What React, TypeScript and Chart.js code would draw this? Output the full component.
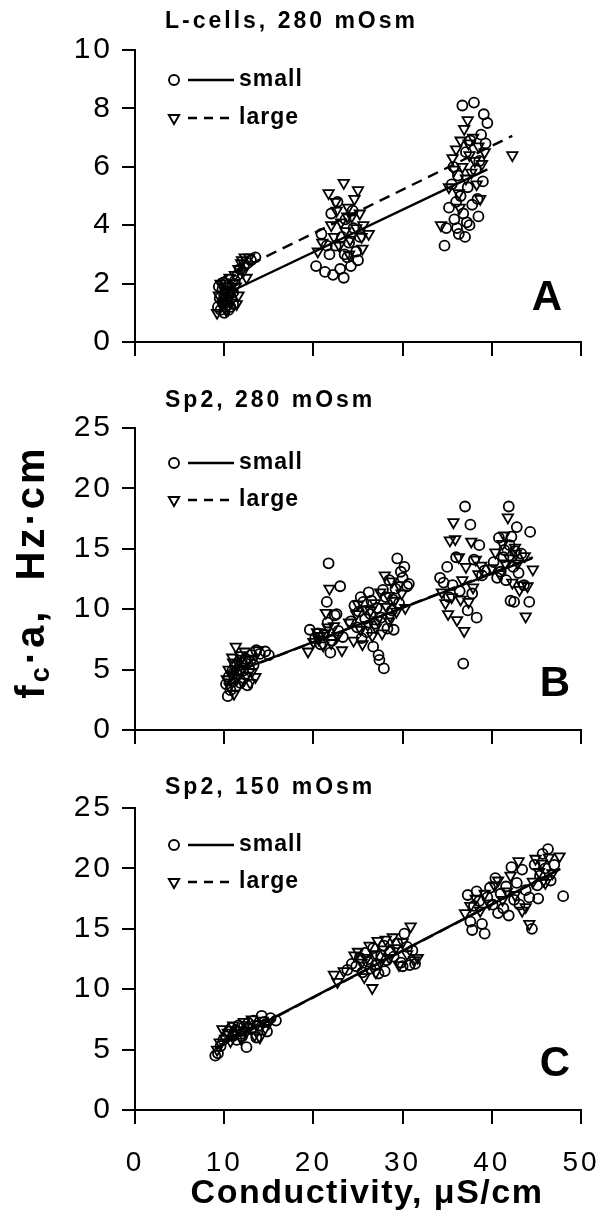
import { useEffect, useRef } from "react";
import { Chart, registerables } from "chart.js";

Chart.register(...registerables);

type Pt = [number, number];

const FONT = '"Liberation Sans", Arial, sans-serif';

const xTicks = [0, 10, 20, 30, 40, 50];
const aYTicks = [0, 2, 4, 6, 8, 10];
const bcYTicks = [0, 5, 10, 15, 20, 25];

const panelTitles = ["L-cells, 280 mOsm", "Sp2, 280 mOsm", "Sp2, 150 mOsm"];
const panelLetters = ["A", "B", "C"];
const legendLabels = ["small", "large"];
const xTitle = "Conductivity, \u03BCS/cm";

// ---------- Panel A: L-cells, 280 mOsm ----------
const aSmall: Pt[] = [
  [9.3, 1.2], [9.5, 1.5], [9.6, 1.1], [9.8, 1.8], [9.9, 1.3], [10.0, 1.6], [10.1, 1.2], [10.2, 2.0],
  [10.3, 1.4], [10.4, 1.7], [10.5, 1.1], [10.6, 1.9], [10.8, 1.5], [11.0, 1.3], [11.2, 2.1], [11.5, 2.3],
  [11.8, 2.5], [12.2, 2.6], [12.6, 2.7], [13.0, 2.8], [13.5, 2.9], [9.4, 1.9], [10.7, 1.2], [11.0, 1.7], [10.0, 1.0],
  [20.3, 2.6], [20.9, 3.7], [21.3, 2.4], [21.8, 3.0], [22.2, 2.3], [22.5, 3.3], [22.7, 4.8], [23.0, 2.5],
  [23.2, 3.6], [23.4, 2.2], [23.6, 4.2], [23.8, 2.9], [24.0, 3.4], [24.2, 2.6], [24.5, 3.9], [24.8, 3.1],
  [25.0, 2.8], [22.0, 4.4], [23.5, 3.0], [24.4, 4.5], [21.5, 3.3], [25.2, 3.6],
  [34.7, 3.3], [34.9, 3.9], [35.2, 4.6], [35.5, 5.4], [35.7, 6.0], [35.8, 4.2], [36.0, 4.8], [36.2, 5.7],
  [36.3, 3.7], [36.5, 5.0], [36.7, 8.1], [36.8, 4.4], [37.0, 3.6], [37.1, 6.5], [37.3, 5.3], [37.5, 4.0],
  [37.6, 6.9], [37.8, 4.7], [38.0, 8.2], [38.2, 5.9], [38.4, 4.9], [38.6, 6.2], [38.8, 7.1], [39.0, 5.5],
  [39.1, 7.8], [39.3, 6.8], [39.5, 7.5], [38.5, 4.3], [37.2, 4.1], [36.1, 3.9],
];
const aLarge: Pt[] = [
  [9.2, 1.0], [9.4, 1.6], [9.6, 2.0], [9.7, 1.3], [9.9, 1.9], [10.0, 1.4], [10.2, 1.1], [10.3, 1.8],
  [10.5, 1.5], [10.6, 2.2], [10.8, 1.7], [11.0, 2.0], [11.2, 2.3], [11.4, 1.3], [11.6, 2.5], [11.9, 2.7],
  [12.1, 2.4], [12.3, 2.9], [12.5, 2.2], [12.8, 2.9], [10.4, 1.2], [11.6, 1.6], [11.3, 1.9], [12.0, 2.8],
  [20.5, 3.1], [21.0, 3.4], [21.7, 5.1], [22.0, 4.0], [22.3, 3.6], [22.6, 4.5], [22.9, 3.3], [23.1, 4.1],
  [23.4, 5.45], [23.6, 3.8], [23.9, 4.6], [24.1, 3.5], [24.3, 4.3], [24.6, 4.9], [24.8, 3.9], [25.0, 5.2],
  [25.2, 4.4], [25.4, 3.6], [25.6, 4.0], [26.2, 3.7], [25.5, 3.2], [24.0, 3.0], [22.5, 4.8], [23.8, 4.3],
  [34.3, 4.0], [35.2, 5.3], [35.6, 6.3], [35.8, 5.9], [36.0, 6.6], [36.3, 5.1], [36.5, 6.9], [36.7, 6.0],
  [36.9, 7.3], [37.1, 5.6], [37.3, 7.6], [37.5, 6.4], [37.7, 5.8], [37.9, 7.0], [38.1, 6.2], [38.3, 5.4],
  [38.5, 6.7], [38.7, 4.9], [38.9, 6.1], [39.2, 6.5], [37.4, 6.8], [36.4, 4.6], [42.3, 6.4],
];
const aSmallFit: Pt[] = [[9.5, 1.55], [39.5, 5.91]];
const aLargeFit: Pt[] = [[9.3, 2.12], [42.3, 7.06]];

// ---------- Panel B: Sp2, 280 mOsm ----------
const bSmall: Pt[] = [
  [10.2, 3.8], [10.4, 2.8], [10.5, 4.4], [10.7, 3.3], [10.9, 4.9], [11.0, 4.0], [11.2, 5.3], [11.3, 3.6],
  [11.5, 4.6], [11.7, 5.0], [11.8, 3.9], [12.0, 5.6], [12.2, 4.3], [12.4, 5.9], [12.6, 3.7], [12.8, 5.1],
  [13.0, 6.2], [13.3, 5.4], [13.6, 6.6], [14.0, 6.3], [14.6, 6.5], [15.0, 6.2], [11.0, 4.7], [12.1, 4.9],
  [19.6, 8.3], [20.2, 7.6], [20.8, 7.1], [21.2, 7.9], [21.5, 10.6], [21.6, 8.9], [21.7, 13.8], [21.9, 6.4],
  [22.1, 7.4], [22.4, 9.5], [22.8, 8.2], [23.0, 11.9], [23.3, 7.7], [20.5, 8.0], [22.6, 9.6],
  [24.2, 9.0], [24.6, 10.3], [24.9, 8.5], [25.1, 9.8], [25.4, 7.6], [25.6, 10.6], [25.8, 9.2], [26.0, 8.1],
  [26.2, 11.4], [26.4, 9.6], [26.7, 6.9], [26.9, 8.8], [27.1, 10.1], [27.3, 6.2], [27.4, 5.8], [27.6, 9.3],
  [27.9, 5.1], [28.1, 11.0], [28.3, 8.4], [28.5, 12.4], [28.8, 9.9], [29.0, 8.3], [29.2, 11.7], [29.4, 14.2],
  [29.6, 10.5], [29.8, 13.1], [30.0, 12.6], [30.2, 13.5], [30.5, 11.9], [30.7, 12.1], [28.9, 10.8], [27.8, 11.6],
  [26.5, 10.7], [25.3, 11.0],
  [34.2, 12.6], [34.6, 12.2], [35.0, 13.5], [35.2, 11.0], [35.6, 12.0], [36.0, 14.3], [36.4, 11.5], [36.8, 5.5],
  [37.0, 18.5], [37.3, 9.9], [37.6, 17.0], [37.8, 11.3], [38.0, 14.1], [38.3, 9.3], [38.6, 15.3], [38.9, 12.8],
  [39.2, 13.2],
  [40.2, 13.9], [40.6, 12.6], [40.8, 15.9], [41.0, 13.1], [41.3, 14.3], [41.6, 12.4], [41.9, 18.5], [42.0, 15.3],
  [42.2, 16.0], [42.4, 13.5], [42.6, 14.8], [42.8, 16.8], [43.0, 13.0], [42.1, 10.7], [42.5, 10.6], [43.3, 14.6],
  [43.6, 12.0], [44.3, 16.4], [44.2, 10.6], [41.4, 14.9],
];
const bLarge: Pt[] = [
  [10.3, 4.2], [10.5, 5.0], [10.6, 3.6], [10.8, 4.6], [11.0, 5.6], [11.1, 3.0], [11.3, 6.9], [11.4, 4.3],
  [11.6, 5.5], [11.8, 6.2], [12.0, 4.0], [12.1, 5.1], [12.3, 6.5], [12.5, 4.5], [12.7, 5.8], [12.9, 3.9],
  [13.1, 4.8], [13.3, 5.9], [13.5, 4.4], [13.8, 6.6], [11.9, 5.9], [10.9, 6.0],
  [19.4, 6.5], [20.0, 7.3], [20.4, 8.1], [20.8, 7.8], [21.1, 7.0], [21.4, 9.7], [21.6, 8.5], [21.8, 11.7],
  [22.0, 7.2], [22.3, 8.6], [22.7, 7.8], [23.2, 6.6], [20.6, 7.5], [21.3, 8.0],
  [24.0, 8.9], [24.5, 7.4], [24.8, 9.6], [25.0, 10.4], [25.3, 8.3], [25.5, 7.1], [25.8, 10.0], [26.1, 8.7],
  [26.4, 9.9], [26.6, 7.8], [26.9, 10.5], [27.2, 9.1], [27.5, 11.4], [27.7, 8.0], [28.0, 12.8], [28.2, 10.2],
  [28.4, 11.1], [28.6, 9.4], [28.8, 12.3], [29.1, 10.7], [29.3, 9.8], [29.6, 12.0], [29.9, 11.3], [30.3, 10.1],
  [27.0, 8.5], [28.5, 9.0],
  [34.4, 11.4], [34.8, 10.5], [35.1, 9.6], [35.3, 15.7], [35.5, 11.0], [35.7, 17.2], [35.9, 15.8], [36.1, 9.1],
  [36.3, 14.3], [36.5, 10.8], [36.7, 12.4], [36.9, 8.2], [37.1, 13.5], [37.4, 10.6], [37.7, 15.6], [37.9, 11.8],
  [38.2, 14.1], [38.5, 12.9], [38.8, 13.6],
  [40.0, 13.4], [40.4, 14.7], [40.9, 12.9], [41.2, 15.4], [41.5, 13.8], [41.8, 17.6], [42.0, 14.2], [42.3, 12.2],
  [42.6, 15.1], [42.9, 13.8], [43.1, 11.6], [43.4, 12.0], [43.7, 14.4], [43.8, 9.4], [44.0, 11.9], [44.6, 13.3],
  [42.7, 14.6], [41.4, 16.1],
];
const bSmallFit: Pt[] = [[10.5, 4.6], [44.5, 14.2]];
const bLargeFit: Pt[] = [[10.3, 4.5], [44.6, 14.3]];

// ---------- Panel C: Sp2, 150 mOsm ----------
const cSmall: Pt[] = [
  [9.0, 4.5], [9.3, 4.7], [9.6, 5.3], [9.9, 5.8], [10.2, 6.1], [10.5, 6.5], [10.8, 6.8], [11.0, 6.2],
  [11.3, 6.6], [11.6, 7.0], [11.9, 6.3], [12.2, 6.9], [12.5, 5.2], [12.7, 7.2], [13.0, 6.7], [13.3, 7.4],
  [13.6, 6.0], [13.9, 7.0], [14.2, 7.8], [14.5, 7.3], [14.8, 6.5], [15.2, 7.6], [15.8, 7.4], [12.0, 6.1], [11.4, 5.8],
  [23.8, 11.6], [24.3, 12.1], [24.8, 11.9], [25.2, 12.6], [25.5, 11.4], [25.8, 13.0], [26.1, 12.3], [26.4, 11.7],
  [26.7, 13.4], [27.0, 12.0], [27.3, 11.3], [27.6, 12.8], [27.9, 13.6], [28.2, 12.4], [28.6, 13.1], [29.0, 12.7],
  [29.4, 13.8], [29.8, 12.2], [30.2, 14.6], [30.5, 13.5], [30.8, 12.0], [31.1, 13.2], [31.4, 12.1], [30.0, 11.9], [28.0, 11.5],
  [37.3, 17.8], [37.6, 15.6], [37.8, 14.9], [38.0, 16.9], [38.3, 18.1], [38.6, 17.3], [38.9, 15.4], [39.2, 14.6],
  [39.5, 17.6], [39.8, 18.4], [40.1, 17.0], [40.4, 19.2], [40.7, 16.3], [41.0, 17.9], [41.3, 16.7], [41.6, 18.5],
  [41.9, 16.1], [42.2, 20.1], [42.5, 17.4], [42.8, 18.8], [43.1, 17.0], [43.4, 19.9], [43.8, 18.2], [44.2, 17.6],
  [44.5, 15.0], [44.8, 20.3], [45.1, 18.6], [45.4, 19.4], [45.7, 21.2], [46.0, 20.0], [46.3, 21.6], [46.6, 19.0],
  [47.0, 20.3], [48.0, 17.7], [45.2, 17.5],
];
const cLarge: Pt[] = [
  [9.2, 5.0], [9.5, 5.6], [9.8, 6.7], [10.1, 5.9], [10.4, 6.4], [10.7, 5.7], [11.0, 7.0], [11.3, 6.3],
  [11.6, 6.6], [11.9, 5.9], [12.2, 7.3], [12.5, 6.5], [12.8, 6.9], [13.1, 7.5], [13.4, 6.2], [13.7, 7.1],
  [14.0, 6.0], [14.3, 7.4], [14.6, 6.8], [15.0, 7.2],
  [22.3, 11.2], [22.7, 10.6], [23.4, 11.5], [24.6, 12.8], [25.0, 13.1], [25.4, 12.2], [25.7, 11.0], [26.0, 12.6],
  [26.3, 13.6], [26.6, 10.1], [26.9, 12.9], [27.2, 14.0], [27.5, 12.2], [27.8, 13.3], [28.1, 14.1], [28.5, 12.6],
  [28.9, 14.3], [29.2, 13.4], [29.6, 12.0], [30.0, 13.9], [30.5, 12.9], [30.9, 15.2], [31.3, 12.4], [31.7, 12.6], [27.0, 11.4],
  [37.0, 16.3], [37.6, 16.9], [38.2, 17.5], [38.7, 16.5], [39.2, 17.9], [39.7, 17.1], [40.3, 18.6], [40.7, 19.0],
  [41.2, 17.4], [41.7, 18.1], [42.1, 19.4], [42.6, 17.8], [43.0, 20.6], [43.4, 16.5], [43.8, 16.8], [44.2, 15.4],
  [44.6, 18.9], [44.9, 20.8], [45.3, 19.7], [45.6, 20.4], [46.0, 18.8], [46.4, 20.9], [46.8, 19.6], [47.6, 21.0], [45.8, 19.0],
];
const cSmallFit: Pt[] = [[9.2, 5.2], [47.5, 19.9]];
const cLargeFit: Pt[] = [[9.0, 5.1], [47.8, 20.0]];

// ---------- layout (page pixels) ----------
type PanelLayout = {
  top: number; height: number; areaTop: number; areaBottom: number;
  titleY: number; legendY: [number, number]; letterX: number; letterY: number;
};
const layouts: PanelLayout[] = [
  { top: 0, height: 380, areaTop: 50, areaBottom: 342, titleY: 22, legendY: [80, 118], letterX: 547, letterY: 298 },
  { top: 380, height: 380, areaTop: 428, areaBottom: 730, titleY: 401, legendY: [463, 500], letterX: 555, letterY: 684 },
  { top: 760, height: 452, areaTop: 808, areaBottom: 1110, titleY: 788, legendY: [845, 882], letterX: 555, letterY: 1064 },
];
const AXIS_LEFT = 135;
const AXIS_RIGHT = 581;

function drawDownTriangle(ctx: CanvasRenderingContext2D, x: number, y: number, r: number) {
  ctx.beginPath();
  ctx.moveTo(x - r * 0.866, y - r * 0.5);
  ctx.lineTo(x + r * 0.866, y - r * 0.5);
  ctx.lineTo(x, y + r);
  ctx.closePath();
  ctx.stroke();
}

function makeDeco(idx: number) {
  const L = layouts[idx];
  return {
    id: "deco" + idx,
    beforeDraw(chart: any) {
      chart.ctx.letterSpacing = "3px";
    },
    afterDraw(chart: any) {
      const ctx: CanvasRenderingContext2D = chart.ctx;
      const off = L.top;
      ctx.save();
      ctx.fillStyle = "#000";
      ctx.strokeStyle = "#000";
      // panel title
      ctx.font = `bold 23px ${FONT}`;
      (ctx as any).letterSpacing = "3px";
      ctx.textAlign = "left";
      ctx.textBaseline = "middle";
      ctx.fillText(panelTitles[idx], 165, L.titleY - off);
      // legend
      (ctx as any).letterSpacing = "1px";
      ctx.font = `bold 23px ${FONT}`;
      const y1 = L.legendY[0] - off;
      const y2 = L.legendY[1] - off;
      ctx.lineWidth = 1.9;
      ctx.beginPath();
      ctx.arc(174, y1, 5, 0, Math.PI * 2);
      ctx.stroke();
      drawDownTriangle(ctx, 174, y2, 6);
      ctx.lineWidth = 2.5;
      ctx.setLineDash([]);
      ctx.beginPath();
      ctx.moveTo(188, y1);
      ctx.lineTo(234, y1);
      ctx.stroke();
      ctx.setLineDash([9, 7]);
      ctx.beginPath();
      ctx.moveTo(188, y2);
      ctx.lineTo(236, y2);
      ctx.stroke();
      ctx.setLineDash([]);
      ctx.fillText(legendLabels[0], 239, y1);
      ctx.fillText(legendLabels[1], 239, y2);
      // panel letter
      (ctx as any).letterSpacing = "0px";
      ctx.font = `bold 42px ${FONT}`;
      ctx.textAlign = "center";
      ctx.fillText(panelLetters[idx], L.letterX, L.letterY - off);
      // y-axis title (on middle panel)
      if (idx === 1) {
        ctx.save();
        ctx.translate(33, 572 - off);
        ctx.rotate(-Math.PI / 2);
        ctx.textAlign = "left";
        ctx.textBaseline = "middle";
        (ctx as any).letterSpacing = "3px";
        const big = `bold 40px ${FONT}`;
        const small = `bold 27px ${FONT}`;
        const parts: [string, string, number][] = [
          ["f", big, 0],
          ["c", small, 9],
          ["\u00B7a,  Hz\u00B7cm", big, 0],
        ];
        let total = 0;
        for (const [t, f] of parts) { ctx.font = f; total += ctx.measureText(t).width; }
        let x = -total / 2;
        for (const [t, f, dy] of parts) {
          ctx.font = f;
          ctx.fillText(t, x, dy);
          x += ctx.measureText(t).width;
        }
        ctx.restore();
      }
      // x-axis title (on bottom panel)
      if (idx === 2) {
        ctx.font = `bold 34px ${FONT}`;
        (ctx as any).letterSpacing = "1.5px";
        ctx.textAlign = "center";
        ctx.textBaseline = "middle";
        ctx.fillText(xTitle, 367, 1194 - off);
      }
      ctx.restore();
      (ctx as any).letterSpacing = "0px";
    },
  };
}

function toXY(pts: Pt[]) {
  return pts.map(([x, y]) => ({ x, y }));
}

function makeConfig(idx: number, small: Pt[], large: Pt[], smallFit: Pt[], largeFit: Pt[], yMax: number, yTicks: number[]): any {
  const L = layouts[idx];
  const showX = idx === 2;
  return {
    type: "scatter",
    data: {
      datasets: [
        {
          type: "line", data: toXY(smallFit), borderColor: "#000", borderWidth: 2.4,
          pointRadius: 0, fill: false, tension: 0, order: 3,
        },
        {
          type: "line", data: toXY(largeFit), borderColor: "#000", borderWidth: 2.4, borderDash: [11, 7],
          pointRadius: 0, fill: false, tension: 0, order: 4,
        },
        {
          label: legendLabels[0], data: toXY(small), pointStyle: "circle", pointRadius: 5,
          pointBorderColor: "#000", pointBackgroundColor: "rgba(0,0,0,0)", pointBorderWidth: 1.8, order: 1,
        },
        {
          label: legendLabels[1], data: toXY(large), pointStyle: "triangle", pointRotation: 180, pointRadius: 6,
          pointBorderColor: "#000", pointBackgroundColor: "rgba(0,0,0,0)", pointBorderWidth: 1.8, order: 2,
        },
      ],
    },
    options: {
      animation: false,
      responsive: false,
      events: [],
      layout: { padding: { top: L.areaTop - L.top, right: 600 - AXIS_RIGHT, left: 0, bottom: 0 } },
      plugins: { legend: { display: false }, tooltip: { enabled: false }, title: { display: false } },
      scales: {
        x: {
          type: "linear", min: 0, max: 50,
          afterBuildTicks: (s: any) => { s.ticks = xTicks.map((v) => ({ value: v })); },
          afterFit: (s: any) => { s.height = L.top + L.height - L.areaBottom; s.paddingLeft = 0; s.paddingRight = 0; },
          grid: { drawOnChartArea: false, drawTicks: true, tickLength: 14, color: "#000", lineWidth: 2 },
          border: { display: true, color: "#000", width: 2 },
          ticks: { display: showX, color: "#000", font: { family: FONT, size: 28 }, padding: 22, maxRotation: 0, autoSkip: false },
        },
        y: {
          type: "linear", min: 0, max: yMax,
          afterBuildTicks: (s: any) => { s.ticks = yTicks.map((v) => ({ value: v })); },
          afterFit: (s: any) => { s.width = AXIS_LEFT; s.paddingTop = 0; s.paddingBottom = 0; },
          grid: { drawOnChartArea: false, drawTicks: true, tickLength: 13, color: "#000", lineWidth: 2 },
          border: { display: true, color: "#000", width: 2 },
          ticks: { color: "#000", font: { family: FONT, size: 30 }, padding: 9, autoSkip: false },
        },
      },
    },
    plugins: [makeDeco(idx)],
  };
}

function Panel({ idx, small, large, smallFit, largeFit, yMax, yTicks }: any) {
  const ref = useRef<HTMLCanvasElement | null>(null);
  const L = layouts[idx];
  useEffect(() => {
    if (!ref.current) return;
    const chart = new Chart(ref.current, makeConfig(idx, small, large, smallFit, largeFit, yMax, yTicks));
    return () => chart.destroy();
  }, []);
  return (
    <canvas
      ref={ref}
      width={600}
      height={L.height}
      style={{ position: "absolute", left: 0, top: L.top, width: 600, height: L.height, display: "block" }}
    />
  );
}

export default function App() {
  return (
    <div style={{ position: "absolute", left: 0, top: 0, width: 600, height: 1212, background: "#fff", overflow: "hidden" }}>
      <Panel idx={0} small={aSmall} large={aLarge} smallFit={aSmallFit} largeFit={aLargeFit} yMax={10} yTicks={aYTicks} />
      <Panel idx={1} small={bSmall} large={bLarge} smallFit={bSmallFit} largeFit={bLargeFit} yMax={25} yTicks={bcYTicks} />
      <Panel idx={2} small={cSmall} large={cLarge} smallFit={cSmallFit} largeFit={cLargeFit} yMax={25} yTicks={bcYTicks} />
    </div>
  );
}
